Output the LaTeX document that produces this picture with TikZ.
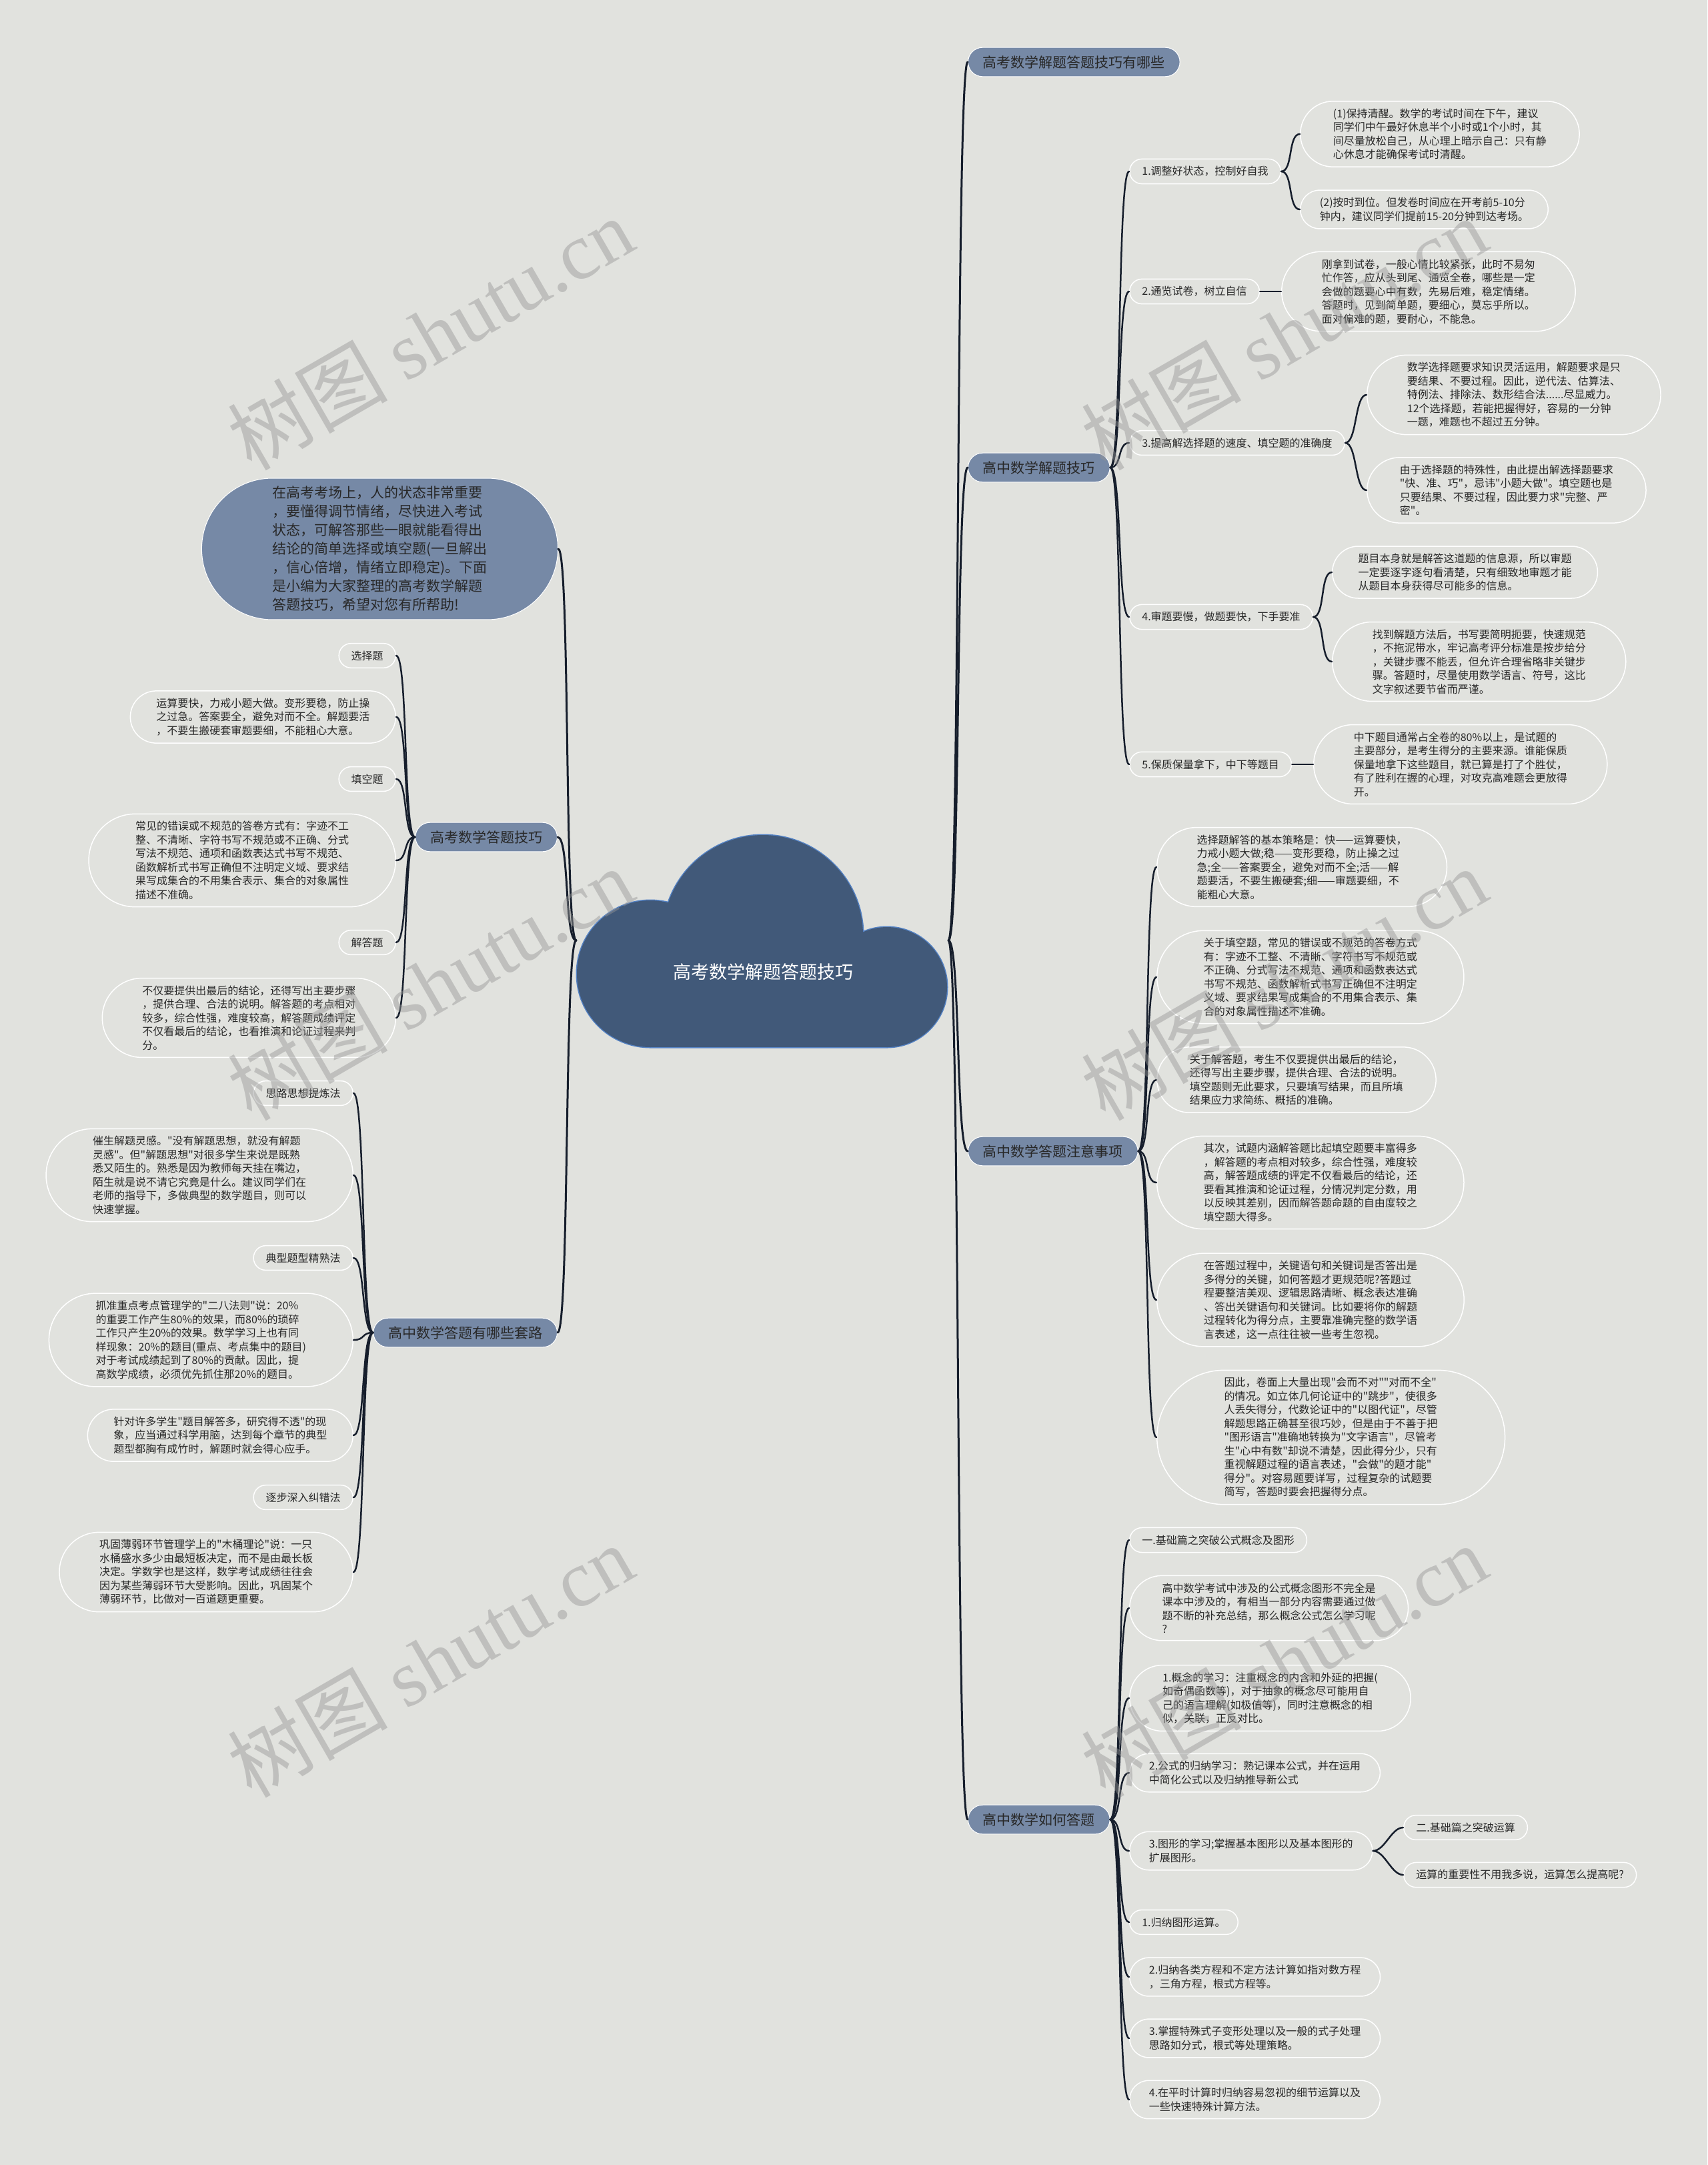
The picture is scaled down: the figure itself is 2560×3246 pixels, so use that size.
\documentclass[tikz,border=0pt]{standalone}
\usepackage{fontspec}
\setmainfont{Noto Sans CJK SC}[Ligatures=TeXOff]
\newfontfamily\wmfont{Liberation Serif}
\usetikzlibrary{shapes.misc,calc}
\definecolor{bgc}{RGB}{225,226,222}
\definecolor{topicc}{RGB}{118,137,166}
\definecolor{cloudc}{RGB}{65,89,121}
\definecolor{cloudedge}{RGB}{84,130,196}
\definecolor{linkc}{RGB}{22,30,44}
\definecolor{txtc}{RGB}{40,40,40}
\definecolor{wmc}{RGB}{150,150,150}
\begin{document}
\begin{tikzpicture}[x=1pt,y=-1pt,
  topic/.style={rounded rectangle, fill=topicc, draw=white, line width=1pt, text=txtc,
    inner xsep=20pt, inner ysep=12pt, font=\fontsize{21}{28}\selectfont},
  leaf/.style={rounded rectangle, draw=white, line width=1.5pt, text=txtc,
    inner xsep=#1, inner ysep=11pt, align=left, font=\fontsize{16}{20.5}\selectfont},
  leaf/.default=17pt,
  link/.style={draw=linkc, line width=2.5pt, line cap=round},
  wmark/.style={text=wmc, opacity=0.45, rotate=30, font=\fontsize{120}{120}\selectfont}]
  \def\bend{18}
  \fill[bgc] (0,0) rectangle (2560,3246);
  \useasboundingbox (0,0) rectangle (2560,3246);

  \draw[cloudedge, line width=3pt] (975,1460) circle (110) (1144,1402) circle (150)
    (1330,1480) circle (90) (975,1460) rectangle (1330,1570);
  \fill[cloudc] (975,1460) circle (110);
  \fill[cloudc] (1144,1402) circle (150);
  \fill[cloudc] (1330,1480) circle (90);
  \fill[cloudc] (975,1460) rectangle (1330,1570);
  \node[text=white, font=\fontsize{27}{27}\selectfont] (root) at (1144,1457) {高考数学解题答题技巧};
  \coordinate (rootR) at (1422,1410);
  \coordinate (rootL) at (864,1410);

  \node[topic, anchor=west] (t1) at (1451,93) {高考数学解题答题技巧有哪些};
  \node[topic, anchor=west] (t2) at (1451,701) {高中数学解题技巧};
  \node[topic, anchor=west] (t3) at (1451,1726) {高中数学答题注意事项};
  \node[topic, anchor=west] (t4) at (1451,2728) {高中数学如何答题};
  \node[topic, anchor=east, align=left, inner xsep=49pt] (intro) at (837,823) {在高考考场上，人的状态非常重要\\，要懂得调节情绪，尽快进入考试\\状态，可解答那些一眼就能看得出\\结论的简单选择或填空题(一旦解出\\，信心倍增，情绪立即稳定)。下面\\是小编为大家整理的高考数学解题\\答题技巧，希望对您有所帮助!};
  \node[topic, anchor=east] (t5) at (836,1255) {高考数学答题技巧};
  \node[topic, anchor=east] (t6) at (836,1998) {高中数学答题有哪些套路};

  \node[leaf, anchor=west] (s1) at (1693,257) {1.调整好状态，控制好自我};
  \node[leaf=31pt, anchor=west] (s1a) at (1949,201) {(1)保持清醒。数学的考试时间在下午，建议\\同学们中午最好休息半个小时或1个小时，其\\间尽量放松自己，从心理上暗示自己：只有静\\心休息才能确保考试时清醒。};
  \node[leaf=23pt, anchor=west] (s1b) at (1949,314) {(2)按时到位。但发卷时间应在开考前5-10分\\钟内，建议同学们提前15-20分钟到达考场。};
  \node[leaf, anchor=west] (s2) at (1693,437) {2.通览试卷，树立自信};
  \node[leaf=35pt, anchor=west] (s2a) at (1921,437) {刚拿到试卷，一般心情比较紧张，此时不易匆\\忙作答，应从头到尾、通览全卷，哪些是一定\\会做的题要心中有数，先易后难，稳定情绪。\\答题时，见到简单题，要细心，莫忘乎所以。\\面对偏难的题，要耐心，不能急。};
  \node[leaf, anchor=west] (s3) at (1693,664) {3.提高解选择题的速度、填空题的准确度};
  \node[leaf=35pt, anchor=west] (s3a) at (2049,592) {数学选择题要求知识灵活运用，解题要求是只\\要结果、不要过程。因此，逆代法、估算法、\\特例法、排除法、数形结合法......尽显威力。\\12个选择题，若能把握得好，容易的一分钟\\一题，难题也不超过五分钟。};
  \node[leaf=31pt, anchor=west] (s3b) at (2049,735) {由于选择题的特殊性，由此提出解选择题要求\\"快、准、巧"，忌讳"小题大做"。填空题也是\\只要结果、不要过程，因此要力求"完整、严\\密"。};
  \node[leaf, anchor=west] (s4) at (1693,925) {4.审题要慢，做题要快，下手要准};
  \node[leaf=27pt, anchor=west] (s4a) at (1997,858) {题目本身就是解答这道题的信息源，所以审题\\一定要逐字逐句看清楚，只有细致地审题才能\\从题目本身获得尽可能多的信息。};
  \node[leaf=35pt, anchor=west] (s4b) at (1997,992) {找到解题方法后，书写要简明扼要，快速规范\\，不拖泥带水，牢记高考评分标准是按步给分\\，关键步骤不能丢，但允许合理省略非关键步\\骤。答题时，尽量使用数学语言、符号，这比\\文字叙述要节省而严谨。};
  \node[leaf, anchor=west] (s5) at (1693,1146) {5.保质保量拿下，中下等题目};
  \node[leaf=35pt, anchor=west] (s5a) at (1969,1146) {中下题目通常占全卷的80\%以上，是试题的\\主要部分，是考生得分的主要来源。谁能保质\\保量地拿下这些题目，就已算是打了个胜仗，\\有了胜利在握的心理，对攻克高难题会更放得\\开。};

  \node[leaf=35pt, anchor=west] (c1) at (1734,1300) {选择题解答的基本策略是：快——运算要快，\\力戒小题大做;稳——变形要稳，防止操之过\\急;全——答案要全，避免对而不全;活——解\\题要活，不要生搬硬套;细——审题要细，不\\能粗心大意。};
  \node[leaf=38pt, anchor=west] (c2) at (1734,1465) {关于填空题，常见的错误或不规范的答卷方式\\有：字迹不工整、不清晰、字符书写不规范或\\不正确、分式写法不规范、通项和函数表达式\\书写不规范、函数解析式书写正确但不注明定\\义域、要求结果写成集合的不用集合表示、集\\合的对象属性描述不准确。};
  \node[leaf=31pt, anchor=west] (c3) at (1734,1619) {关于解答题，考生不仅要提供出最后的结论，\\还得写出主要步骤，提供合理、合法的说明。\\填空题则无此要求，只要填写结果，而且所填\\结果应力求简练、概括的准确。};
  \node[leaf=38pt, anchor=west] (c4) at (1734,1773) {其次，试题内涵解答题比起填空题要丰富得多\\，解答题的考点相对较多，综合性强，难度较\\高，解答题成绩的评定不仅看最后的结论，还\\要看其推演和论证过程，分情况判定分数，用\\以反映其差别，因而解答题命题的自由度较之\\填空题大得多。};
  \node[leaf=38pt, anchor=west] (c5) at (1734,1949) {在答题过程中，关键语句和关键词是否答出是\\多得分的关键，如何答题才更规范呢?答题过\\程要整洁美观、逻辑思路清晰、概念表达准确\\、答出关键语句和关键词。比如要将你的解题\\过程转化为得分点，主要靠准确完整的数学语\\言表述，这一点往往被一些考生忽视。};
  \node[leaf=46pt, anchor=west] (c6) at (1734,2155) {因此，卷面上大量出现"会而不对""对而不全"\\的情况。如立体几何论证中的"跳步"，使很多\\人丢失得分，代数论证中的"以图代证"，尽管\\解题思路正确甚至很巧妙，但是由于不善于把\\"图形语言"准确地转换为"文字语言"，尽管考\\生"心中有数"却说不清楚，因此得分少，只有\\重视解题过程的语言表述，"会做"的题才能"\\得分"。对容易题要详写，过程复杂的试题要\\简写，答题时要会把握得分点。};

  \node[leaf, anchor=west] (d1) at (1693,2309) {一.基础篇之突破公式概念及图形};
  \node[leaf=31pt, anchor=west] (d2) at (1693,2411) {高中数学考试中涉及的公式概念图形不完全是\\课本中涉及的，有相当一部分内容需要通过做\\题不断的补充总结，那么概念公式怎么学习呢\\?};
  \node[leaf=31pt, anchor=west] (d3) at (1693,2546) {1.概念的学习：注重概念的内含和外延的把握(\\如奇偶函数等)，对于抽象的概念尽可能用自\\己的语言理解(如极值等)，同时注意概念的相\\似，关联，正反对比。};
  \node[leaf=23pt, anchor=west] (d4) at (1693,2658) {2.公式的归纳学习：熟记课本公式，并在运用\\中简化公式以及归纳推导新公式};
  \node[leaf=23pt, anchor=west] (d5) at (1693,2775) {3.图形的学习;掌握基本图形以及基本图形的\\扩展图形。};
  \node[leaf, anchor=west] (e1) at (2104,2740) {二.基础篇之突破运算};
  \node[leaf, anchor=west] (e2) at (2104,2811) {运算的重要性不用我多说，运算怎么提高呢?};
  \node[leaf, anchor=west] (d6) at (1693,2882) {1.归纳图形运算。};
  \node[leaf=23pt, anchor=west] (d7) at (1693,2964) {2.归纳各类方程和不定方法计算如指对数方程\\，三角方程，根式方程等。};
  \node[leaf=23pt, anchor=west] (d8) at (1693,3056) {3.掌握特殊式子变形处理以及一般的式子处理\\思路如分式，根式等处理策略。};
  \node[leaf=23pt, anchor=west] (d9) at (1693,3148) {4.在平时计算时归纳容易忽视的细节运算以及\\一些快速特殊计算方法。};

  \node[leaf, anchor=east] (f1) at (594,983) {选择题};
  \node[leaf=27pt, anchor=east] (f2) at (594,1075) {运算要快，力戒小题大做。变形要稳，防止操\\之过急。答案要全，避免对而不全。解题要活\\，不要生搬硬套审题要细，不能粗心大意。};
  \node[leaf, anchor=east] (f3) at (594,1168) {填空题};
  \node[leaf=38pt, anchor=east] (f4) at (594,1290) {常见的错误或不规范的答卷方式有：字迹不工\\整、不清晰、字符书写不规范或不正确、分式\\写法不规范、通项和函数表达式书写不规范、\\函数解析式书写正确但不注明定义域、要求结\\果写成集合的不用集合表示、集合的对象属性\\描述不准确。};
  \node[leaf, anchor=east] (f5) at (594,1413) {解答题};
  \node[leaf=35pt, anchor=east] (f6) at (594,1526) {不仅要提供出最后的结论，还得写出主要步骤\\，提供合理、合法的说明。解答题的考点相对\\较多，综合性强，难度较高，解答题成绩评定\\不仅看最后的结论，也看推演和论证过程来判\\分。};

  \node[leaf, anchor=east] (g1) at (530,1639) {思路思想提炼法};
  \node[leaf=38pt, anchor=east] (g2) at (530,1762) {催生解题灵感。"没有解题思想，就没有解题\\灵感"。但"解题思想"对很多学生来说是既熟\\悉又陌生的。熟悉是因为教师每天挂在嘴边，\\陌生就是说不请它究竟是什么。建议同学们在\\老师的指导下，多做典型的数学题目，则可以\\快速掌握。};
  \node[leaf, anchor=east] (g3) at (530,1886) {典型题型精熟法};
  \node[leaf=38pt, anchor=east] (g4) at (530,2009) {抓准重点考点管理学的"二八法则"说：20\%\\的重要工作产生80\%的效果，而80\%的琐碎\\工作只产生20\%的效果。数学学习上也有同\\样现象：20\%的题目(重点、考点集中的题目)\\对于考试成绩起到了80\%的贡献。因此，提\\高数学成绩，必须优先抓住那20\%的题目。};
  \node[leaf=27pt, anchor=east] (g5) at (530,2152) {针对许多学生"题目解答多，研究得不透"的现\\象，应当通过科学用脑，达到每个章节的典型\\题型都胸有成竹时，解题时就会得心应手。};
  \node[leaf, anchor=east] (g6) at (530,2245) {逐步深入纠错法};
  \node[leaf=35pt, anchor=east] (g7) at (530,2357) {巩固薄弱环节管理学上的"木桶理论"说：一只\\水桶盛水多少由最短板决定，而不是由最长板\\决定。学数学也是这样，数学考试成绩往往会\\因为某些薄弱环节大受影响。因此，巩固某个\\薄弱环节，比做对一百道题更重要。};

  \foreach \t in {t1,t2,t3,t4}
    \draw[link, line width=3pt] (rootR) .. controls ($(rootR)+(\bend,0)$) and ($(\t.west)+(-\bend,0)$) .. (\t.west);
  \foreach \t in {intro,t5,t6}
    \draw[link, line width=3pt] (rootL) .. controls ($(rootL)+(-\bend,0)$) and ($(\t.east)+(\bend,0)$) .. (\t.east);
  \foreach \p/\c in {t2/s1,t2/s2,t2/s3,t2/s4,t2/s5,t3/c1,t3/c2,t3/c3,t3/c4,t3/c5,t3/c6,
      t4/d1,t4/d2,t4/d3,t4/d4,t4/d5,t4/d6,t4/d7,t4/d8,t4/d9,s1/s1a,s1/s1b,s2/s2a,
      s3/s3a,s3/s3b,s4/s4a,s4/s4b,s5/s5a,d5/e1,d5/e2}
    \draw[link] (\p.east) .. controls ($(\p.east)+(\bend,0)$) and ($(\c.west)+(-\bend,0)$) .. (\c.west);
  \foreach \c in {f1,f2,f3,f4,f5,f6}
    \draw[link] (t5.west) .. controls ($(t5.west)+(-\bend,0)$) and ($(\c.east)+(\bend,0)$) .. (\c.east);
  \foreach \c in {g1,g2,g3,g4,g5,g6,g7}
    \draw[link] (t6.west) .. controls ($(t6.west)+(-\bend,0)$) and ($(\c.east)+(\bend,0)$) .. (\c.east);

  \node[wmark] (wm1) at (645,500) {树图 {\wmfont shutu.cn}};
  \node[wmark] (wm2) at (1925,500) {树图 {\wmfont shutu.cn}};
  \node[wmark] (wm3) at (645,1475) {树图 {\wmfont shutu.cn}};
  \node[wmark] (wm4) at (1925,1475) {树图 {\wmfont shutu.cn}};
  \node[wmark] (wm5) at (645,2490) {树图 {\wmfont shutu.cn}};
  \node[wmark] (wm6) at (1925,2490) {树图 {\wmfont shutu.cn}};
\end{tikzpicture}
\end{document}
